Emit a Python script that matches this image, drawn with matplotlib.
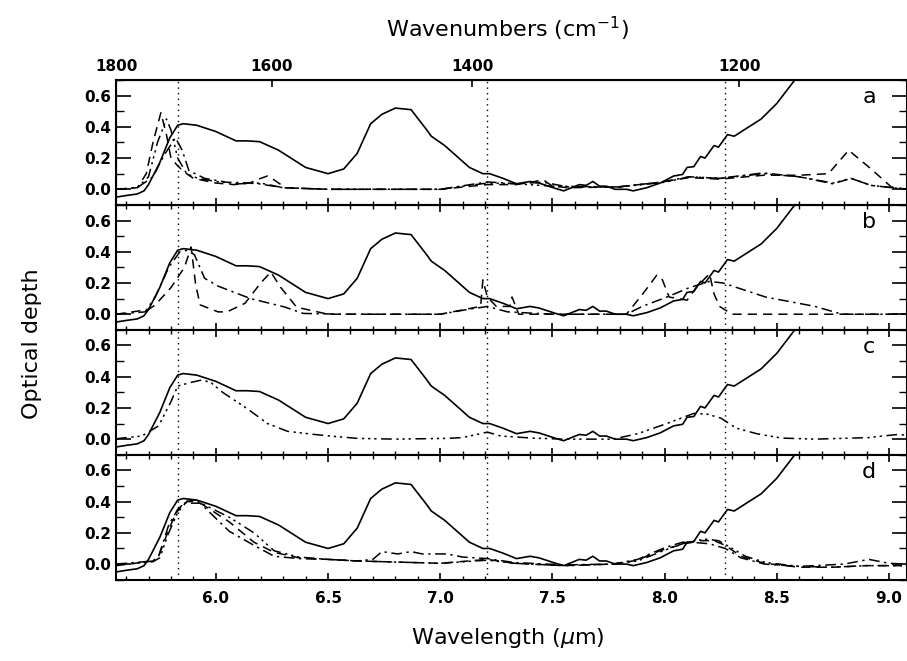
import matplotlib.pyplot as plt
import numpy as np
from matplotlib.ticker import MultipleLocator, FormatStrFormatter

# reference spectrum (solid, same in every panel)
wl_ref = [5.556, 5.60, 5.65, 5.68, 5.70, 5.75, 5.795, 5.83, 5.855, 5.915, 6.0, 6.09, 6.14, 6.195,
          6.28, 6.40, 6.50, 6.57, 6.63, 6.69, 6.74, 6.80, 6.87, 6.94, 6.96, 7.02, 7.13, 7.19, 7.22,
          7.28, 7.34, 7.40, 7.44, 7.51, 7.55, 7.62, 7.65, 7.68, 7.71, 7.74, 7.78, 7.83, 7.86, 7.92,
          7.98, 8.04, 8.08, 8.10, 8.13, 8.16, 8.18, 8.22, 8.24, 8.28, 8.31, 8.43, 8.50, 8.58, 8.70,
          8.85, 9.0, 9.1]
tau_ref = [-0.05, -0.04, -0.03, -0.01, 0.03, 0.17, 0.33, 0.41, 0.42, 0.41, 0.37, 0.31, 0.31, 0.305,
           0.25, 0.14, 0.10, 0.13, 0.23, 0.42, 0.48, 0.52, 0.51, 0.38, 0.34, 0.28, 0.14, 0.10, 0.10,
           0.07, 0.035, 0.05, 0.04, 0.007, -0.01, 0.03, 0.025, 0.05, 0.02, 0.02, 0.0, 0.0, -0.01, 0.01,
           0.04, 0.085, 0.095, 0.14, 0.145, 0.21, 0.20, 0.28, 0.27, 0.35, 0.34, 0.45, 0.55, 0.70, 0.88,
           1.1, 1.35, 1.5]

# panel a
a_dash_wl = [5.556, 5.65, 5.69, 5.72, 5.755, 5.78, 5.80, 5.83, 5.86, 5.90, 6.0, 6.08, 6.15, 6.20, 6.23,
             6.26, 6.31, 6.5, 7.0, 7.21, 7.34, 7.46, 7.5, 7.57, 7.79, 7.98, 8.11, 8.245, 8.44, 8.6, 8.73,
             8.82, 8.92, 9.01, 9.08]
a_dash = [0.0, 0.01, 0.10, 0.30, 0.49, 0.35, 0.20, 0.15, 0.11, 0.07, 0.04, 0.03, 0.04, 0.07, 0.085,
          0.06, 0.01, 0.0, 0.0, 0.03, 0.03, 0.06, 0.02, 0.01, 0.015, 0.045, 0.075, 0.065, 0.09, 0.09, 0.10,
          0.25, 0.13, 0.015, 0.0]
a_d3_wl = [5.556, 5.65, 5.70, 5.74, 5.78, 5.80, 5.83, 5.87, 5.92, 6.0, 6.1, 6.2, 6.3, 6.5, 7.0, 7.21,
           7.34, 7.5, 7.8, 8.0, 8.11, 8.25, 8.44, 8.6, 8.75, 8.83, 8.92, 9.08]
a_d3 = [0.0, 0.01, 0.08, 0.30, 0.45, 0.38, 0.20, 0.10, 0.07, 0.05, 0.035, 0.04, 0.01, 0.0, 0.0, 0.04,
        0.035, 0.02, 0.015, 0.045, 0.08, 0.07, 0.10, 0.08, 0.04, 0.07, 0.025, 0.0]
a_dd_wl = [5.556, 5.65, 5.72, 5.77, 5.82, 5.85, 5.88, 5.95, 6.05, 6.17, 6.3, 6.5, 7.0, 7.21, 7.34, 7.46,
           7.57, 7.79, 7.98, 8.11, 8.245, 8.44, 8.6, 8.75, 8.83, 8.92, 9.08]
a_dd = [0.0, 0.01, 0.08, 0.22, 0.33, 0.25, 0.12, 0.07, 0.045, 0.04, 0.01, 0.0, 0.0, 0.047, 0.036, 0.045,
        0.015, 0.015, 0.045, 0.08, 0.07, 0.105, 0.08, 0.035, 0.07, 0.025, 0.0]

# panel b
b_dash_wl = [5.556, 5.70, 5.73, 5.80, 5.86, 5.89, 5.91, 5.93, 6.01, 6.05, 6.13, 6.20, 6.245, 6.29, 6.36,
             6.5, 7.0, 7.18, 7.19, 7.21, 7.25, 7.31, 7.32, 7.35, 7.5, 7.83, 7.905, 7.965, 7.99, 8.02, 8.1,
             8.14, 8.2, 8.22, 8.245, 8.3, 9.08]
b_dash = [0.0, 0.03, 0.06, 0.17, 0.30, 0.43, 0.19, 0.06, 0.015, 0.015, 0.07, 0.2, 0.27, 0.17, 0.045,
          0.0, 0.0, 0.05, 0.22, 0.11, 0.05, 0.05, 0.11, 0.0, 0.0, 0.0, 0.135, 0.25, 0.22, 0.11, 0.09,
          0.17, 0.26, 0.13, 0.05, 0.0, 0.0]
b_dd_wl = [5.556, 5.685, 5.73, 5.79, 5.84, 5.875, 5.905, 5.95, 6.01, 6.155, 6.305, 6.39, 6.57, 7.0, 7.12,
           7.21, 7.30, 7.5, 7.83, 7.90, 8.01, 8.11, 8.2, 8.26, 8.45, 8.67, 8.79, 9.08]
b_dd = [0.0, 0.015, 0.11, 0.30, 0.40, 0.41, 0.38, 0.23, 0.18, 0.10, 0.047, 0.005, 0.0, 0.0, 0.03,
        0.05, 0.015, 0.0, 0.0, 0.05, 0.11, 0.17, 0.21, 0.20, 0.11, 0.05, 0.0, 0.0]

# panel c
c_d3_wl = [5.556, 5.57, 5.67, 5.745, 5.80, 5.83, 5.88, 5.94, 5.98, 6.03, 6.145, 6.23, 6.32, 6.44, 6.51,
           6.63, 6.8, 7.03, 7.1, 7.21, 7.27, 7.41, 7.55, 7.77, 7.88, 8.01, 8.13, 8.19, 8.25, 8.32, 8.41,
           8.52, 8.67, 8.91, 8.97, 9.04, 9.08]
c_d3 = [0.0, 0.005, 0.02, 0.085, 0.24, 0.34, 0.36, 0.38, 0.36, 0.30, 0.19, 0.10, 0.05, 0.03, 0.02,
        0.005, 0.0, 0.005, 0.01, 0.045, 0.02, 0.007, 0.0, 0.0, 0.035, 0.10, 0.165, 0.16, 0.135, 0.07,
        0.035, 0.007, 0.0, 0.01, 0.02, 0.03, 0.025]

# panel d
d_dash_wl = [5.556, 5.72, 5.745, 5.79, 5.82, 5.86, 5.91, 6.06, 6.17, 6.26, 6.37, 6.5, 6.63, 7.0, 7.21,
             7.33, 7.55, 7.77, 7.88, 7.95, 8.01, 8.09, 8.16, 8.22, 8.27, 8.34, 8.445, 8.6, 8.75, 8.9, 9.08]
d_dash = [-0.01, 0.02, 0.05, 0.22, 0.32, 0.40, 0.41, 0.27, 0.14, 0.075, 0.04, 0.03, 0.02, 0.005, 0.03,
          0.005, -0.01, 0.0, 0.025, 0.07, 0.1, 0.13, 0.15, 0.15, 0.12, 0.05, 0.005, -0.02, -0.02, -0.01, -0.01]
d_dd_wl = [5.556, 5.72, 5.745, 5.79, 5.83, 5.86, 5.93, 6.06, 6.17, 6.26, 6.37, 6.5, 6.63, 6.70, 6.74,
           6.81, 6.87, 6.92, 7.03, 7.1, 7.21, 7.33, 7.55, 7.77, 7.88, 7.95, 8.01, 8.08, 8.12, 8.2, 8.27,
           8.34, 8.445, 8.6, 8.8, 8.91, 9.0, 9.08]
d_dd = [0.0, 0.02, 0.05, 0.25, 0.35, 0.39, 0.39, 0.21, 0.12, 0.05, 0.035, 0.03, 0.02, 0.03, 0.08,
        0.065, 0.08, 0.065, 0.065, 0.045, 0.035, 0.01, -0.005, 0.0, 0.03, 0.075, 0.11, 0.14, 0.14, 0.13,
        0.10, 0.04, 0.0, -0.015, 0.0, 0.03, 0.005, 0.0]
d_d3_wl = [5.556, 5.72, 5.75, 5.79, 5.83, 5.87, 5.92, 6.06, 6.17, 6.26, 6.37, 6.5, 6.63, 7.0, 7.21,
           7.33, 7.55, 7.77, 7.88, 7.95, 8.02, 8.1, 8.18, 8.24, 8.29, 8.36, 8.45, 8.6, 8.75, 8.9, 9.08]
d_d3 = [-0.005, 0.015, 0.04, 0.20, 0.33, 0.40, 0.40, 0.30, 0.20, 0.085, 0.045, 0.03, 0.02, 0.005, 0.025,
        0.005, -0.01, 0.0, 0.02, 0.06, 0.10, 0.14, 0.16, 0.15, 0.11, 0.05, 0.01, -0.015, -0.02, -0.01, -0.01]

panel_letters = ['a', 'b', 'c', 'd']
marker_wl = [5.83, 7.21, 8.27]
wavenumbers = [1800, 1600, 1400, 1200]

dash = (0, (6, 4))
dashdot = (0, (7, 3, 1.5, 3))
dash3dot = (0, (7, 3, 1.5, 2.5, 1.5, 2.5, 1.5, 3))

panels = [
    [(a_dash_wl, a_dash, dash), (a_d3_wl, a_d3, dash3dot), (a_dd_wl, a_dd, dashdot)],
    [(b_dash_wl, b_dash, dash), (b_dd_wl, b_dd, dashdot)],
    [(c_d3_wl, c_d3, dash3dot)],
    [(d_dash_wl, d_dash, dash), (d_dd_wl, d_dd, dashdot), (d_d3_wl, d_d3, dash3dot)],
]

xmin, xmax = 1e4 / 1800, 9.08

fig, axes = plt.subplots(4, 1, sharex=True, figsize=(9.07, 6.61), dpi=100)
fig.subplots_adjust(left=0.128, right=1.0, top=0.879, bottom=0.123, hspace=0)

for i, ax in enumerate(axes):
    ax.plot(wl_ref, tau_ref, color='black', lw=1.2)
    for wl, tau, ls in panels[i]:
        ax.plot(wl, tau, color='black', lw=1.1, linestyle=ls)
    for m in marker_wl:
        ax.axvline(m, color='black', lw=1.0, linestyle=(0, (1, 3)))
    ax.set_xlim(xmin, xmax)
    ax.set_ylim(-0.1, 0.7)
    ax.yaxis.set_major_locator(MultipleLocator(0.2))
    ax.yaxis.set_minor_locator(MultipleLocator(0.1))
    ax.yaxis.set_major_formatter(FormatStrFormatter('%.1f'))
    ax.xaxis.set_major_locator(MultipleLocator(0.5))
    ax.xaxis.set_minor_locator(MultipleLocator(0.1))
    ax.xaxis.set_major_formatter(FormatStrFormatter('%.1f'))
    ax.tick_params(axis='y', which='major', direction='in', length=11, width=1.2,
                   left=True, right=True, labelsize=11)
    ax.tick_params(axis='y', which='minor', direction='in', length=5.5, width=1.0,
                   left=True, right=True)
    ax.tick_params(axis='x', which='major', direction='in', length=5, width=1.2,
                   bottom=True, top=(i > 0), labelsize=11, pad=8)
    ax.tick_params(axis='x', which='minor', direction='in', length=3, width=1.0,
                   bottom=True, top=(i > 0))
    for lab in ax.get_yticklabels():
        lab.set_fontweight('bold')
    for sp in ax.spines.values():
        sp.set_linewidth(1.5)
    ax.text(0.952, 0.86, panel_letters[i], transform=ax.transAxes, fontsize=16,
            ha='center', va='center')

for lab in axes[-1].get_xticklabels():
    lab.set_fontweight('bold')

top = axes[0].twiny()
top.set_xlim(xmin, xmax)
top.set_xticks(1e4 / np.array(wavenumbers))
top.set_xticklabels([str(w) for w in wavenumbers], fontweight='bold')
top.tick_params(axis='x', direction='in', length=5, width=1.2, labelsize=11, pad=4)
top.xaxis.set_minor_locator(plt.NullLocator())

fig.text(0.56, 0.035, r'Wavelength ($\mu$m)', fontsize=16, ha='center', va='center')
fig.text(0.56, 0.957, r'Wavenumbers (cm$^{-1}$)', fontsize=16, ha='center', va='center')
fig.text(0.035, 0.48, 'Optical depth', fontsize=16, rotation=90, ha='center', va='center')

fig.savefig('out.png', dpi=100)
